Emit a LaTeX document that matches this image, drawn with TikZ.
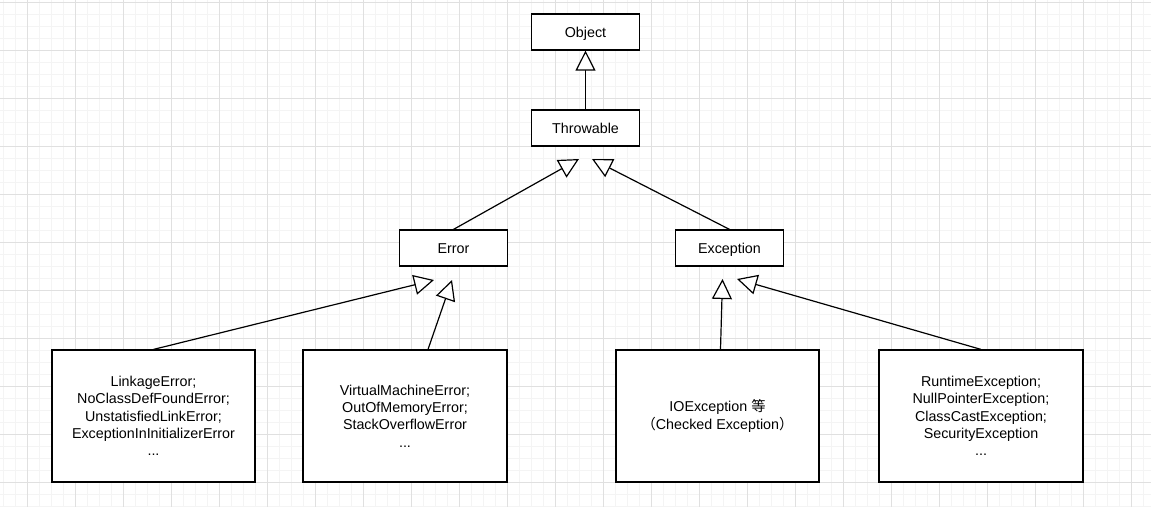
\documentclass[tikz,border=0pt]{standalone}
\usepackage{fontspec}
\setmainfont{Liberation Sans}
\newfontfamily\cjk{Noto Sans CJK SC}
\usetikzlibrary{arrows.meta}

\definecolor{gridmajor}{HTML}{E0E0E0}
\definecolor{gridminor}{HTML}{F4F4F4}

\tikzset{
    cls/.style={draw, line width=1.2pt, fill=white, minimum width=108pt, minimum height=36pt,
        inner sep=0pt, text height=13pt, text depth=3pt, font=\fontsize{14.3}{17.3}\selectfont},
    group/.style={draw, line width=1.2pt, fill=white, minimum width=203pt, minimum height=132pt,
        inner sep=0pt, align=center, font=\fontsize{14.3}{17.3}\selectfont},
    inherit/.style={line width=1.2pt, -{Triangle[open, fill=white, length=20pt, width=20pt]}},
}

\begin{document}
\begin{tikzpicture}[x=1pt, y=-1pt]
    \useasboundingbox (0,0) rectangle (1151,507);
    \fill[white] (0,0) rectangle (1151,507);
    % background grid
    \foreach \gx in {3.3,15.3,...,1151} \draw[gridminor, line width=1pt] (\gx,0) -- (\gx,507);
    \foreach \gy in {2.3,14.3,...,507} \draw[gridminor, line width=1pt] (0,\gy) -- (1151,\gy);
    \foreach \gx in {27.3,75.3,...,1151} \draw[gridmajor, line width=1pt] (\gx,0) -- (\gx,507);
    \foreach \gy in {2.3,50.3,...,507} \draw[gridmajor, line width=1pt] (0,\gy) -- (1151,\gy);

    \node[cls] (object) at (585.5,32) {Object};
    \node[cls] (throwable) at (585.5,128) {Throwable};
    \node[cls] (error) at (453.5,248) {Error};
    \node[cls] (exception) at (729.5,248) {Exception};

    \node[group] (errlink) at (153.5,416) {LinkageError;\\NoClassDefFoundError;\\UnstatisfiedLinkError;\\ExceptionInInitializerError\\...};
    \node[group, minimum width=204pt] (errvm) at (405,416) {VirtualMachineError;\\OutOfMemoryError;\\StackOverflowError\\...};
    \node[group] (exchecked) at (717.5,416) {IOException {\cjk 等}\\{\cjk （}Checked Exception{\cjk ）}};
    \node[group, minimum width=204pt] (exruntime) at (981,416) {RuntimeException;\\NullPointerException;\\ClassCastException;\\SecurityException\\...};

    % free arrow ends
    \coordinate (thrL) at (579,159);
    \coordinate (thrR) at (592,159);
    \coordinate (errL) at (434,280);
    \coordinate (errR) at (452,280);
    \coordinate (excL) at (722.5,279);
    \coordinate (excR) at (737,279);

    \draw[inherit] (throwable) -- (object);
    \draw[inherit] (error.north) -- (thrL);
    \draw[inherit] (exception.north) -- (thrR);
    \draw[inherit] (errlink.north) -- (errL);
    \draw[inherit] ([xshift=23pt]errvm.north) -- (errR);
    \draw[inherit] ([xshift=3pt]exchecked.north) -- (excL);
    \draw[inherit] (exruntime.north) -- (excR);
\end{tikzpicture}
\end{document}
